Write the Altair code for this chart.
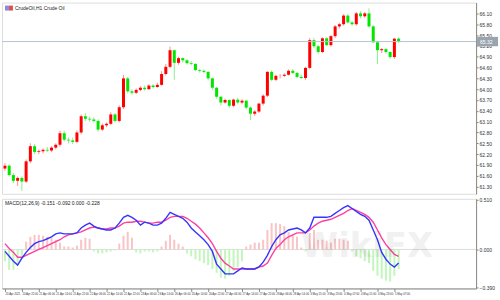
import json
import altair as alt
import pandas as pd

# ---- price candles (Crude Oil) ----
opens = [61.80,61.88,61.62,61.46,61.54,61.44,62.00,62.42,62.26,62.28,62.32,62.30,62.38,62.46,62.78,62.60,62.58,62.54,62.80,63.25,
         63.18,63.16,63.12,62.88,63.00,63.04,63.30,63.12,63.50,64.30,63.94,63.90,63.98,64.04,64.00,64.10,64.06,64.12,64.42,64.62,
         65.08,64.73,64.86,64.80,64.72,64.70,64.53,64.51,64.48,64.30,64.04,63.79,63.63,63.70,63.54,63.71,63.63,63.68,63.49,63.32,
         63.38,63.60,63.82,64.48,64.26,64.37,64.37,64.40,64.51,64.45,64.34,64.31,64.59,65.36,65.19,65.03,65.41,65.22,65.47,65.74,
         65.80,66.04,65.85,65.80,66.10,66.02,66.10,65.74,65.30,65.08,65.11,65.03,64.89,65.40]
highs = [61.95,61.92,61.68,61.58,61.58,62.05,62.50,62.48,62.33,62.36,62.40,62.42,62.50,62.85,62.85,62.66,62.66,62.86,63.30,63.34,
         63.24,63.22,63.16,63.05,63.08,63.36,63.34,63.55,64.40,64.34,64.00,64.02,64.08,64.10,64.14,64.14,64.18,64.50,64.70,65.18,
         65.10,64.90,64.88,64.84,64.78,64.72,64.56,64.55,64.50,64.32,64.06,63.82,63.74,63.72,63.74,63.76,63.72,63.70,63.52,63.42,
         63.62,63.86,64.50,64.52,64.40,64.42,64.44,64.55,64.56,64.48,64.40,64.62,65.42,65.42,65.24,65.44,65.44,65.50,65.78,65.84,
         66.08,66.08,65.88,66.14,66.16,66.14,66.24,65.78,65.34,65.14,65.14,65.05,65.42,65.44]
lows = [61.74,61.58,61.40,61.32,61.18,61.40,61.95,62.20,62.20,62.22,62.26,62.25,62.33,62.40,62.55,62.50,62.48,62.50,62.75,63.12,
        63.10,63.08,62.82,62.84,62.95,63.00,63.08,63.08,63.45,63.88,63.84,63.86,63.94,63.96,63.98,64.02,64.04,64.10,64.38,64.58,
        64.26,64.68,64.74,64.68,64.66,64.50,64.46,64.44,64.24,63.98,63.74,63.55,63.60,63.48,63.50,63.58,63.58,63.44,63.14,63.26,
        63.34,63.55,63.78,64.22,64.22,64.30,64.34,64.38,64.42,64.30,64.28,64.26,64.55,65.14,64.98,65.00,65.20,65.18,65.42,65.68,
        65.76,65.82,65.76,65.76,65.96,65.98,65.70,65.28,64.70,65.00,64.98,64.84,64.84,65.28]
closes = [61.88,61.62,61.46,61.54,61.44,62.00,62.42,62.26,62.28,62.32,62.30,62.38,62.46,62.78,62.60,62.58,62.54,62.80,63.25,63.18,
          63.16,63.12,62.88,63.00,63.04,63.30,63.12,63.50,64.30,63.94,63.90,63.98,64.04,64.00,64.10,64.06,64.12,64.42,64.62,65.08,
          64.73,64.86,64.80,64.72,64.70,64.53,64.51,64.48,64.30,64.04,63.79,63.63,63.70,63.54,63.71,63.63,63.68,63.49,63.32,63.38,
          63.60,63.82,64.48,64.26,64.37,64.37,64.40,64.51,64.45,64.34,64.31,64.59,65.36,65.19,65.03,65.41,65.22,65.47,65.74,65.80,
          66.04,65.85,65.80,66.10,66.02,66.10,65.74,65.30,65.08,65.11,65.03,64.89,65.40,65.32]

# ---- MACD ----
macd_main = [-0.02,-0.07,-0.12,-0.16,-0.09,-0.03,0.02,0.06,0.08,0.09,0.11,0.13,0.16,0.17,0.16,0.16,0.16,0.17,0.22,0.25,
             0.27,0.24,0.22,0.21,0.20,0.20,0.22,0.27,0.33,0.35,0.33,0.30,0.25,0.28,0.27,0.25,0.25,0.27,0.32,0.38,
             0.36,0.34,0.32,0.28,0.22,0.18,0.14,0.10,0.05,-0.02,-0.15,-0.20,-0.25,-0.25,-0.25,-0.22,-0.19,-0.20,-0.20,-0.20,
             -0.18,-0.13,-0.06,0.03,0.10,0.15,0.17,0.20,0.21,0.22,0.20,0.17,0.22,0.33,0.33,0.33,0.33,0.34,0.37,0.40,
             0.43,0.45,0.42,0.39,0.36,0.34,0.30,0.20,0.10,-0.03,-0.10,-0.15,-0.18,-0.14]
macd_signal = [0.06,0.01,-0.03,-0.08,-0.08,-0.06,-0.04,-0.02,0.00,0.02,0.04,0.06,0.08,0.10,0.13,0.15,0.16,0.17,0.18,0.20,
               0.22,0.23,0.22,0.21,0.21,0.22,0.22,0.24,0.27,0.28,0.28,0.29,0.29,0.28,0.27,0.27,0.28,0.28,0.30,0.33,
               0.34,0.34,0.34,0.32,0.29,0.26,0.22,0.17,0.12,0.06,-0.02,-0.09,-0.14,-0.17,-0.20,-0.20,-0.20,-0.20,-0.20,-0.20,
               -0.18,-0.17,-0.14,-0.06,0.01,0.05,0.10,0.13,0.15,0.17,0.17,0.17,0.20,0.24,0.27,0.29,0.30,0.31,0.33,0.35,
               0.37,0.40,0.42,0.40,0.38,0.36,0.33,0.28,0.20,0.12,0.05,0.00,-0.05,-0.07]
macd_hist = [-0.12,-0.21,-0.21,-0.15,-0.07,0.08,0.13,0.15,0.15,0.14,0.13,0.12,0.10,0.07,0.03,0.03,0.02,0.04,0.10,0.12,
             0.11,-0.02,-0.04,-0.04,-0.03,-0.02,-0.01,0.06,0.14,0.18,0.12,-0.03,-0.04,-0.02,-0.02,-0.03,-0.02,0.03,0.09,0.15,
             0.10,0.06,0.03,-0.04,-0.07,-0.10,-0.12,-0.14,-0.16,-0.20,-0.24,-0.29,-0.30,-0.27,-0.22,-0.18,-0.12,0.03,0.05,0.07,
             0.07,0.10,0.20,0.27,0.27,0.26,0.24,0.18,0.15,0.13,0.02,-0.02,0.17,0.20,0.10,0.10,0.09,0.07,0.11,0.11,
             0.10,0.09,-0.02,-0.07,-0.09,-0.12,-0.14,-0.22,-0.27,-0.30,-0.32,-0.33,-0.27,-0.20]

time_labels = ["20 Apr 2021","20 Apr 22:00","21 Apr 06:00","21 Apr 14:00","21 Apr 22:00","22 Apr 06:00",
               "22 Apr 14:00","22 Apr 22:00","23 Apr 06:00","23 Apr 14:00","26 Apr 06:00","26 Apr 14:00",
               "26 Apr 22:00","27 Apr 06:00","27 Apr 14:00","27 Apr 22:00","28 Apr 06:00","28 Apr 14:00",
               "3 May 15:00","3 May 23:00","4 May 07:00","4 May 15:00","4 May 23:00","5 May 07:00"]
price_ticks = [61.30,61.60,61.90,62.20,62.50,62.80,63.10,63.40,63.70,64.00,64.30,64.60,64.90,65.20,65.50,65.80,66.10]
macd_ticks = [-0.39, 0.0, 0.51]
bid_price = 65.32

n = len(closes)
df = pd.DataFrame({
    "i": list(range(n)), "o": opens, "h": highs, "l": lows, "c": closes,
    "main": macd_main, "signal": macd_signal, "hist": macd_hist,
})

W = 476
FONT = "Liberation Sans"
xscale = alt.Scale(domain=[-0.7, 111.3], nice=False, zero=False)
pscale = alt.Scale(domain=[61.10, 66.40], nice=False, zero=False)
mscale = alt.Scale(domain=[-0.40, 0.52], nice=False, zero=False)

paxis = alt.Axis(orient="right", values=price_ticks, format=".2f", labelFontSize=5, labelFont=FONT, tickSize=2,
                 labelPadding=1, labelOverlap=False, domainColor="#888", tickColor="#888", labelColor="#333",
                 grid=False, title=None)
maxis = alt.Axis(orient="right", values=macd_ticks, format=".3f", labelFontSize=5, labelFont=FONT, tickSize=2,
                 labelPadding=1, labelOverlap=False, domainColor="#888", tickColor="#888", labelColor="#333",
                 grid=False, title=None)
label_expr = json.dumps(time_labels) + "[round(datum.value / 4)]"
xaxis = alt.Axis(values=list(range(0, 4 * len(time_labels), 4)), labelExpr=label_expr,
                 labelFontSize=2.8, labelFont=FONT, labelAlign="left", labelBaseline="top", labelPadding=1.5,
                 tickSize=3, domainColor="#888", tickColor="#888", labelColor="#333",
                 grid=False, title=None, labelOverlap=False, labelFlush=False)

up_test = "datum.c >= datum.o"
body_color = alt.condition(up_test, alt.value("#ff0000"), alt.value("#00e600"))
wick_color = alt.condition(up_test, alt.value("#ff8c8c"), alt.value("#8cee8c"))

base = alt.Chart(df)
xmain = alt.X("i:Q", scale=xscale, axis=None)

wicks = base.mark_rule(strokeWidth=1).encode(
    x=xmain, y=alt.Y("l:Q", scale=pscale, axis=paxis), y2="h:Q", color=wick_color)
bodies = base.mark_rule(strokeWidth=3).encode(
    x=xmain, y=alt.Y("o:Q", scale=pscale, axis=paxis), y2="c:Q", color=body_color)

bid_df = pd.DataFrame({"p": [bid_price], "lo": [bid_price - 0.13], "hi": [bid_price + 0.13],
                       "t": [f"{bid_price:.2f}"]})
bid_line = alt.Chart(bid_df).mark_rule(color="#b8c4d0", strokeWidth=1).encode(
    y=alt.Y("p:Q", scale=pscale, axis=paxis), x=alt.value(0), x2=alt.value(W))
bid_box = alt.Chart(bid_df).mark_rect(color="#9aa4ae", clip=False).encode(
    y=alt.Y("lo:Q", scale=pscale, axis=paxis), y2="hi:Q", x=alt.value(W + 1), x2=alt.value(W + 22))
bid_txt = alt.Chart(bid_df).mark_text(fontSize=5, font=FONT, color="white", align="left", baseline="middle",
                                      clip=False).encode(
    y=alt.Y("p:Q", scale=pscale, axis=paxis), x=alt.value(W + 4), text="t:N")

hdr = pd.DataFrame({"t": ["CrudeOil,H1  Crude Oil"]})
hdr_icon1 = alt.Chart(hdr).mark_rect(color="#8a8ae0").encode(x=alt.value(3), x2=alt.value(7), y=alt.value(3), y2=alt.value(8))
hdr_icon2 = alt.Chart(hdr).mark_rect(color="#e05050").encode(x=alt.value(7), x2=alt.value(11), y=alt.value(3), y2=alt.value(8))
hdr_txt = alt.Chart(hdr).mark_text(fontSize=5, font=FONT, align="left", baseline="middle", color="#222").encode(
    x=alt.value(13), y=alt.value(5.5), text="t:N")

main = alt.layer(wicks, bodies, bid_line, bid_box, bid_txt, hdr_icon1, hdr_icon2, hdr_txt).properties(width=W, height=192)

# ---- MACD panel ----
xm = alt.X("i:Q", scale=xscale, axis=xaxis)
zero_df = pd.DataFrame({"z": [0.0]})
zero = alt.Chart(zero_df).mark_rule(color="#dddddd").encode(
    y=alt.Y("z:Q", scale=mscale, axis=maxis), x=alt.value(0), x2=alt.value(W))
hist = base.mark_rule(strokeWidth=2).encode(
    x=xm, y=alt.Y("hist:Q", scale=mscale, axis=maxis), y2=alt.datum(0),
    color=alt.condition("datum.hist >= 0", alt.value("#f8c4c4"), alt.value("#c2f6bc")))
sig = base.mark_line(color="#ff3f9f", strokeWidth=1.4).encode(
    x=xm, y=alt.Y("signal:Q", scale=mscale, axis=maxis))
mline = base.mark_line(color="#3535ff", strokeWidth=1.4).encode(
    x=xm, y=alt.Y("main:Q", scale=mscale, axis=maxis))
mhdr = pd.DataFrame({"t": ["MACD(12,26,9) -0.151 -0.092 0.000 -0.228"]})
mhdr_txt = alt.Chart(mhdr).mark_text(fontSize=5, font=FONT, align="left", baseline="middle", color="#222").encode(
    x=alt.value(3), y=alt.value(4), text="t:N")
wm = pd.DataFrame({"t": ["WikiFX"]})
wm_txt = alt.Chart(wm).mark_text(fontSize=34, fontWeight="bold", align="left", baseline="middle",
                                 color="#000000", opacity=0.05, font="DejaVu Sans").encode(
    x=alt.value(300), y=alt.value(48), text="t:N")

macd = alt.layer(zero, hist, sig, mline, mhdr_txt, wm_txt).properties(width=W, height=90)

chart = alt.vconcat(main, macd, spacing=2).properties(
    padding={"left": 1, "top": 1, "right": 1, "bottom": 1}
).configure_view(stroke="#888", strokeWidth=1).configure(background="white")

chart.save("out.html", embed_options={"renderer": "svg", "actions": False})
